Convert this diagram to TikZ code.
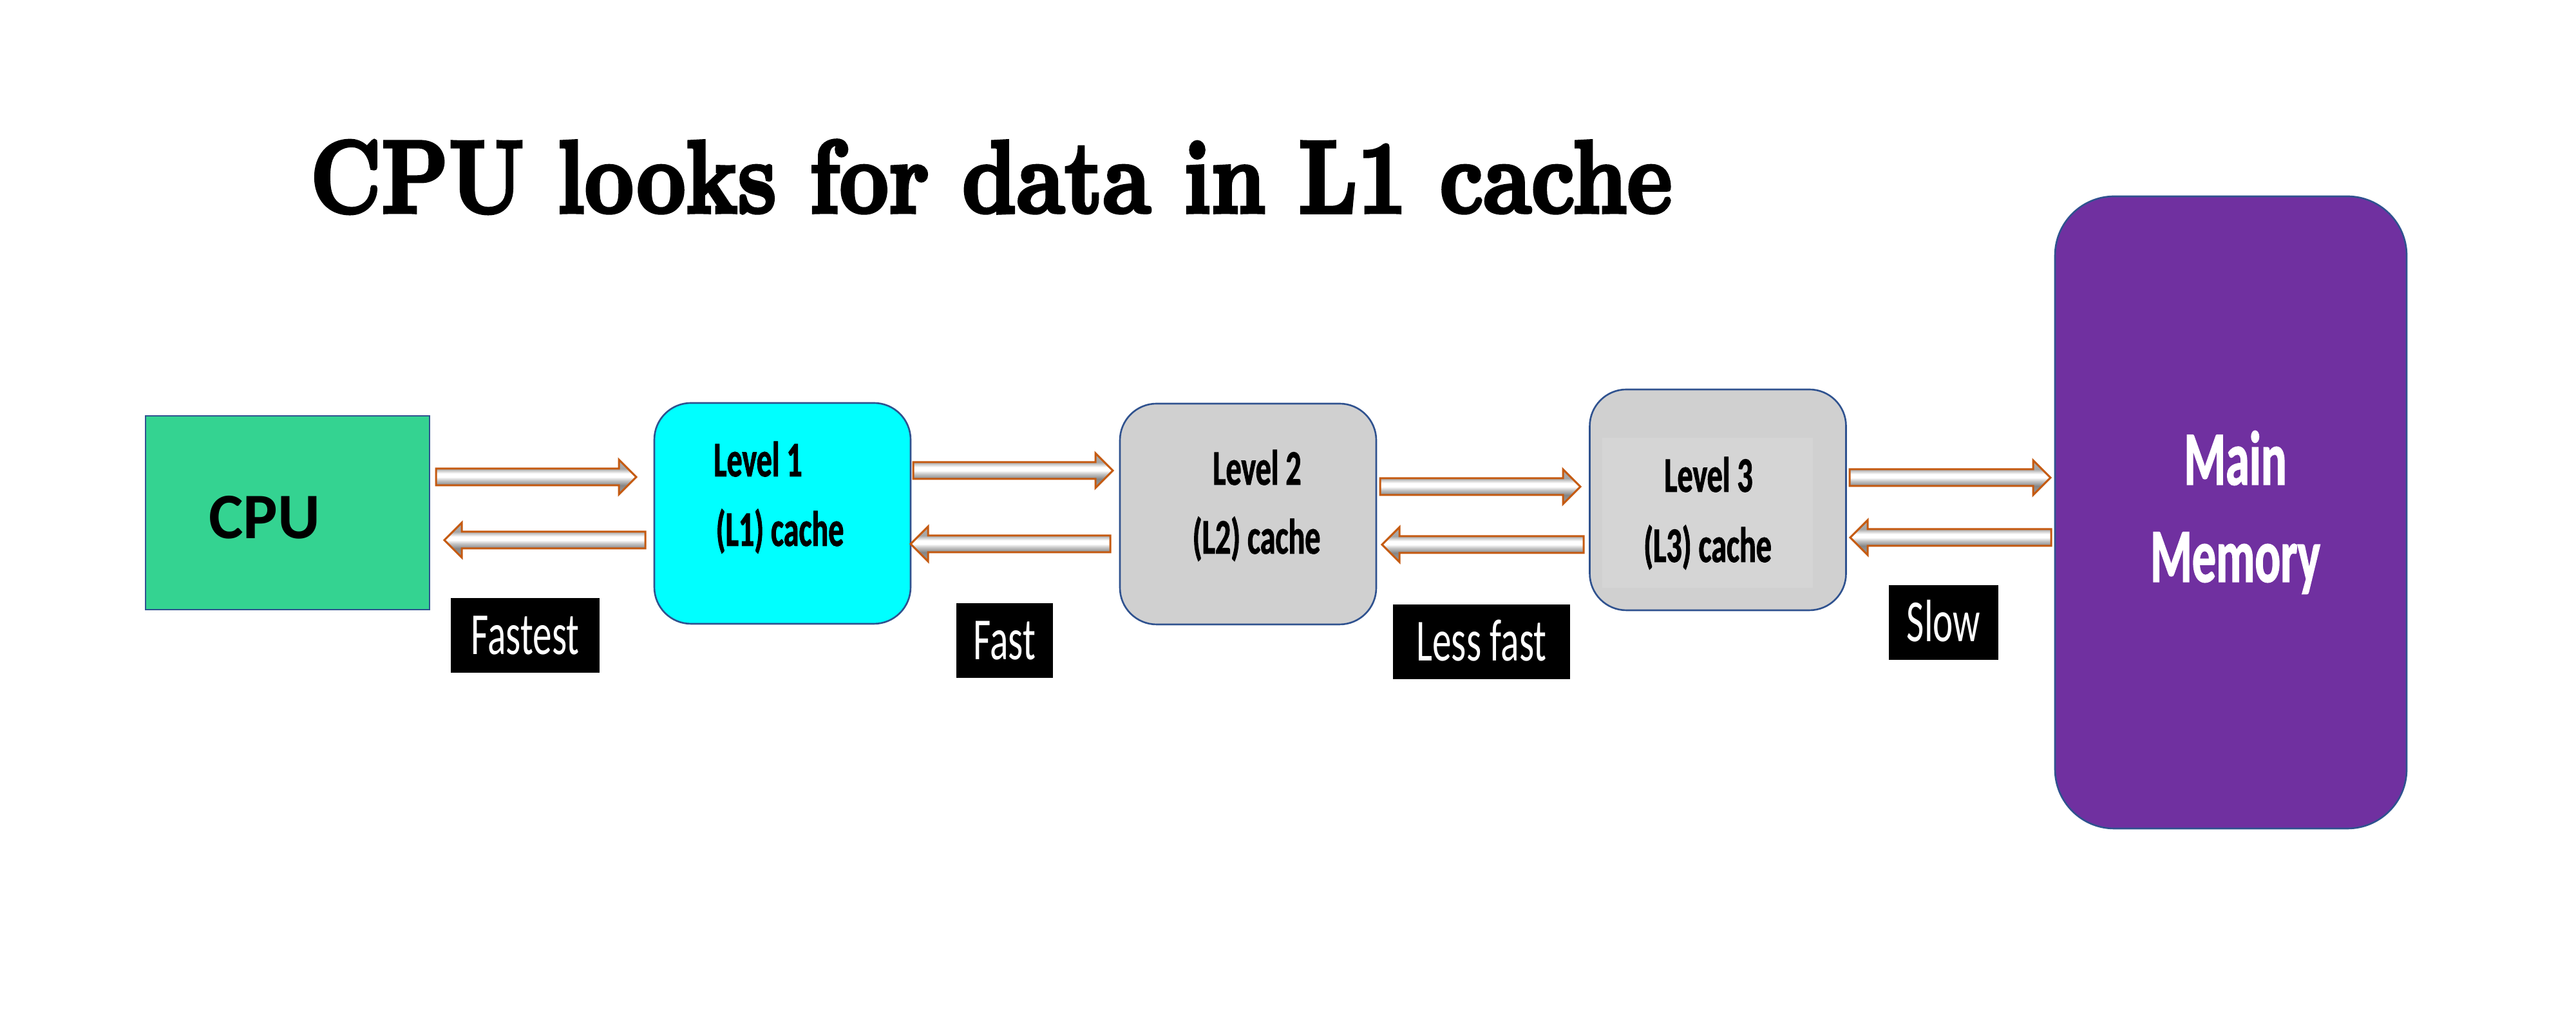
\documentclass[tikz,border=0pt]{standalone}
\usepackage{fontspec}
\usetikzlibrary{calc}
\newfontfamily\agb{Carlito}[FakeStretch=0.64]
\newfontfamily\agbb{Carlito}[FakeStretch=0.62, BoldFeatures={FakeBold=1.2}]
\newfontfamily\calib{Carlito}
\newfontfamily\titlefont{lmroman10-bold.otf}[FakeBold=3.5]
\definecolor{bordblue}{RGB}{47,82,143}
\definecolor{cpugreen}{RGB}{52,211,145}
\definecolor{cacheone}{RGB}{0,255,255}
\definecolor{lgray}{RGB}{208,208,208}
\definecolor{lgrayin}{RGB}{213,213,213}
\definecolor{mempurple}{RGB}{112,48,160}
\definecolor{arrorange}{RGB}{197,90,17}
\pgfdeclareverticalshading{arrshade}{100bp}{%
  color(0bp)=(gray!80); color(25bp)=(gray!80); color(38bp)=(gray!95);
  color(45bp)=(gray!45); color(50bp)=(white); color(55bp)=(white);
  color(60bp)=(gray!50); color(62bp)=(gray!70); color(75bp)=(gray!65); color(100bp)=(gray!65)}
\tikzset{
  boxbase/.style={draw=bordblue, line width=0.75pt, inner sep=0pt},
  cachebox/.style={boxbase, rectangle, rounded corners=0.57cm, minimum width=3.98cm, minimum height=3.43cm},
  boxtext/.style={anchor=base, inner sep=0pt, font=\agbb\bfseries\fontsize{22}{26}\selectfont},
  memtext/.style={anchor=base, inner sep=0pt, text=white, font=\agbb\bfseries\fontsize{34}{40}\selectfont},
  speedlabel/.style={anchor=base, fill=black, text=white, inner sep=0pt, text height=0.88cm, text depth=0.28cm,
     font=\agb\fontsize{26.4}{30}\selectfont},
  blockarr/.style={draw=arrorange, line width=0.85pt, line join=miter, shade, shading=arrshade},
}
\newcommand\blockarrow[2]{%
  \path[blockarr]
    ($(#1)!0.13cm!90:(#2)$) --
    ($($(#2)!0.27cm!(#1)$)!0.13cm!-90:(#1)$) --
    ($($(#2)!0.27cm!(#1)$)!0.27cm!-90:(#1)$) --
    (#2) --
    ($($(#2)!0.27cm!(#1)$)!0.27cm!90:(#1)$) --
    ($($(#2)!0.27cm!(#1)$)!0.13cm!90:(#1)$) --
    ($(#1)!0.13cm!-90:(#2)$) -- cycle;
}
\begin{document}
\begin{tikzpicture}
\useasboundingbox (0,0) rectangle (40,16);
\fill[white] (0,0) rectangle (40,16);

% title
\node[anchor=base west, inner sep=0pt] (title) at (4.81,12.70)
  {\resizebox{21.14cm}{1.12cm}{\titlefont CPU looks for data in L1 cache}};

% boxes
\node[boxbase, rectangle, fill=cpugreen, minimum width=4.41cm, minimum height=3.01cm] (cpu) at (4.465,8.035) {};
\node[anchor=base, inner sep=0pt, font=\calib\bfseries\fontsize{28.7}{34}\selectfont] (cputxt) at (4.11,7.63) {CPU};

\node[cachebox, fill=cacheone] (l1) at (12.15,8.025) {};
\node[boxtext] (l1a) at (11.77,8.60) {Level 1};
\node[boxtext] (l1b) at (12.11,7.52) {(L1) cache};

\node[cachebox, fill=lgray] (l2) at (19.38,8.015) {};
\node[boxtext] (l2a) at (19.52,8.47) {Level 2};
\node[boxtext] (l2b) at (19.51,7.40) {(L2) cache};

\node[cachebox, fill=lgray] (l3) at (26.675,8.235) {};
\node[fill=lgrayin, minimum width=3.27cm, minimum height=2.33cm, inner sep=0pt] (l3in) at (26.515,8.035) {};
\node[boxtext] (l3a) at (26.53,8.36) {Level 3};
\node[boxtext] (l3b) at (26.515,7.27) {(L3) cache};

\node[boxbase, rectangle, rounded corners=0.92cm, fill=mempurple, minimum width=5.46cm, minimum height=9.82cm] (mem) at (34.64,8.04) {};
\node[memtext] (mema) at (34.71,8.47) {Main};
\node[memtext] (memb) at (34.71,6.96) {Memory};

% speed labels
\node[speedlabel, minimum width=2.31cm] (fastest) at (8.155,5.83) {Fastest};
\node[speedlabel, minimum width=1.50cm] (fast) at (15.60,5.75) {Fast};
\node[speedlabel, minimum width=2.75cm] (lessfast) at (23.005,5.73) {Less fast};
\node[speedlabel, minimum width=1.70cm] (slow) at (30.18,6.03) {Slow};

% arrow end points
\coordinate (a1s) at (6.77,8.59);  \coordinate (a1e) at (9.88,8.59);
\coordinate (b1s) at (10.02,7.61); \coordinate (b1e) at (6.90,7.61);
\coordinate (a2s) at (14.18,8.69); \coordinate (a2e) at (17.28,8.69);
\coordinate (b2s) at (17.24,7.55); \coordinate (b2e) at (14.14,7.55);
\coordinate (a3s) at (21.43,8.44); \coordinate (a3e) at (24.54,8.44);
\coordinate (b3s) at (24.59,7.54); \coordinate (b3e) at (21.46,7.54);
\coordinate (a4s) at (28.72,8.58); \coordinate (a4e) at (31.84,8.58);
\coordinate (b4s) at (31.85,7.65); \coordinate (b4e) at (28.73,7.65);

\blockarrow{a1s}{a1e}
\blockarrow{b1s}{b1e}
\blockarrow{a2s}{a2e}
\blockarrow{b2s}{b2e}
\blockarrow{a3s}{a3e}
\blockarrow{b3s}{b3e}
\blockarrow{a4s}{a4e}
\blockarrow{b4s}{b4e}
\end{tikzpicture}
\end{document}
